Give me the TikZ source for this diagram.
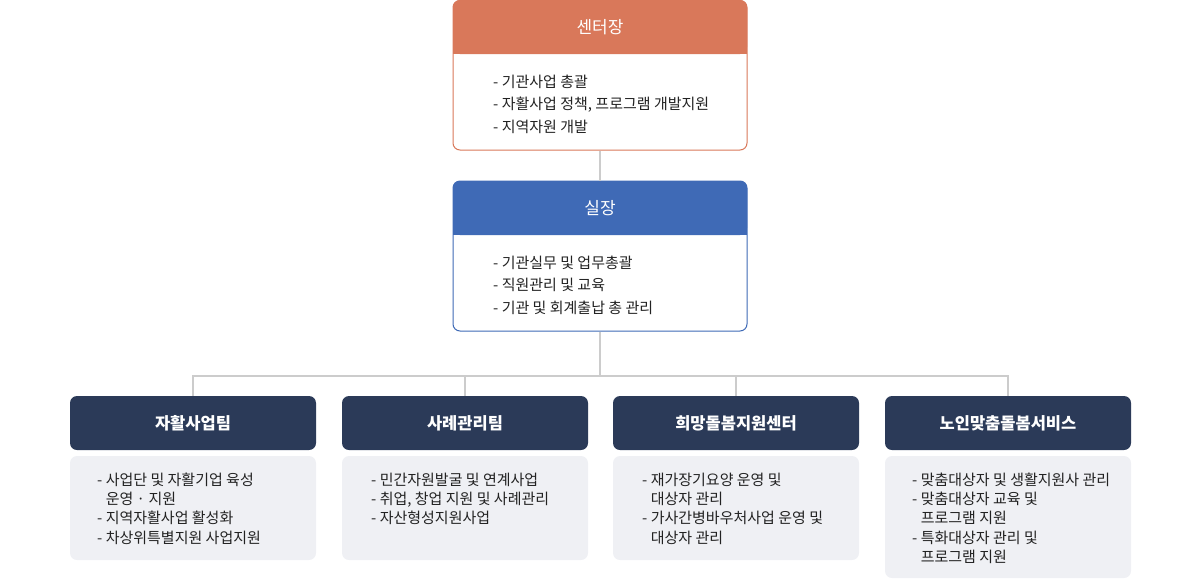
\documentclass[tikz,border=0pt]{standalone}
\usepackage{fontspec}
\setmainfont{Noto Sans CJK KR}
\usetikzlibrary{positioning,calc}
\definecolor{ceoOrange}{HTML}{D9785A}
\definecolor{dirBlue}{HTML}{3F6AB6}
\definecolor{teamNavy}{HTML}{2B3A58}
\definecolor{bodyGray}{HTML}{EFF0F4}
\definecolor{lineGray}{HTML}{CCCCCC}
\definecolor{textDark}{HTML}{222222}

\begin{document}
\begin{tikzpicture}[x=1pt, y=-1pt,
    card/.style={draw, line width=1pt, fill=white, rounded corners=7pt, minimum width=294pt, inner sep=0pt},
    cardhead/.style={rounded corners=7pt, minimum width=294pt, minimum height=54pt, inner sep=0pt, text=white, font=\fontsize{17}{19}\selectfont},
    teamhead/.style={fill=teamNavy, rounded corners=7pt, minimum width=246pt, minimum height=54pt, inner sep=0pt, text=white, font=\fontsize{16.5}{19}\selectfont\bfseries},
    teambody/.style={fill=bodyGray, rounded corners=7pt, minimum width=246pt, inner sep=0pt},
    toptext/.style={anchor=north west, inner sep=0pt, align=left, text=textDark, font=\fontsize{15}{22.8}\selectfont},
    teamtext/.style={anchor=north west, inner sep=0pt, align=left, text=textDark, font=\fontsize{15}{19.3}\selectfont},
    conn/.style={draw=lineGray, line width=2pt},
  ]
  \useasboundingbox (0,0) rectangle (1200,579);

  % top: center head
  \node[card, draw=ceoOrange, minimum height=149.5pt] (ceo) at (600,75.25) {};
  \node[cardhead, fill=ceoOrange] (ceoHead) at (600,27) {센터장};
  \fill[ceoOrange] ($(ceoHead.south west)+(0,-14)$) rectangle (ceoHead.south east);
  \node[toptext] (ceoText) at (493,74.5) {- 기관사업 총괄\\- 자활사업 정책, 프로그램 개발지원\\- 지역자원 개발};

  % director
  \node[card, draw=dirBlue, minimum height=150pt] (dir) at (600,256) {};
  \node[cardhead, fill=dirBlue] (dirHead) at (600,208) {실장};
  \fill[dirBlue] ($(dirHead.south west)+(0,-14)$) rectangle (dirHead.south east);
  \node[toptext] (dirText) at (493,255.5) {- 기관실무 및 업무총괄\\- 직원관리 및 교육\\- 기관 및 회계출납 총 관리};

  % teams
  \node[teamhead] (t1) at (193,423) {자활사업팀};
  \node[teamhead] (t2) at (465,423) {사례관리팀};
  \node[teamhead] (t3) at (736,423) {희망돌봄지원센터};
  \node[teamhead] (t4) at (1008,423) {노인맞춤돌봄서비스};

  \node[teambody, minimum height=104pt] (b1) at (193,508) {};
  \node[teambody, minimum height=104pt] (b2) at (465,508) {};
  \node[teambody, minimum height=104pt] (b3) at (736,508) {};
  \node[teambody, minimum height=122pt] (b4) at (1008,517) {};

  \node[teamtext] (b1Text) at (97,472.5) {- 사업단 및 자활기업 육성\\\phantom{- }운영 · 지원\\- 지역자활사업 활성화\\- 차상위특별지원 사업지원};
  \node[teamtext] (b2Text) at (371,472.5) {- 민간자원발굴 및 연계사업\\- 취업, 창업 지원 및 사례관리\\- 자산형성지원사업};
  \node[teamtext] (b3Text) at (642,472.5) {- 재가장기요양 운영 및\\\phantom{- }대상자 관리\\- 가사간병바우처사업 운영 및\\\phantom{- }대상자 관리};
  \node[teamtext] (b4Text) at (912,472.5) {- 맞춤대상자 및 생활지원사 관리\\- 맞춤대상자 교육 및\\\phantom{- }프로그램 지원\\- 특화대상자 관리 및\\\phantom{- }프로그램 지원};

  % connectors
  \coordinate (junc) at (600,376);
  \draw[conn] (ceo.south) -- (dir.north);
  \draw[conn] (dir.south) -- (junc);
  \draw[conn] (t1.north) -- (t1.north |- junc) -- (t4.north |- junc) -- (t4.north);
  \draw[conn] (t2.north) -- (t2.north |- junc);
  \draw[conn] (t3.north) -- (t3.north |- junc);
\end{tikzpicture}
\end{document}
